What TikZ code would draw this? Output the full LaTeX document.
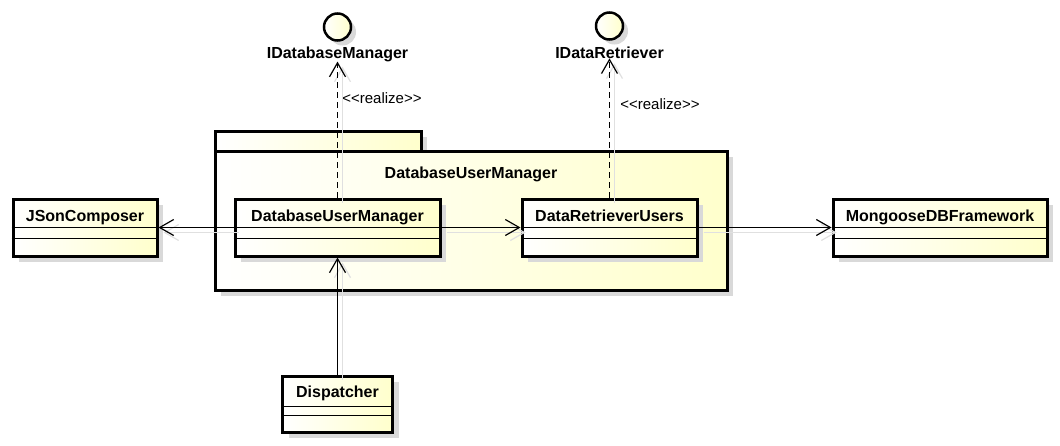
\documentclass[tikz,border=0pt]{standalone}
\usepackage{fontspec}
\setmainfont{Liberation Sans}
\usepackage{tikz}
\usetikzlibrary{positioning}
\usetikzlibrary{calc}
\usetikzlibrary{arrows.meta, shadows, shapes}
\definecolor{umlyellow}{rgb}{1.0, 1.0, 0.8}
\definecolor{shadowgray}{rgb}{0.85, 0.85, 0.85}
\def\stereo(#1){<\kern0pt<#1>\kern0pt>}
\def\compartments(#1,#2){\draw[compline] ($(#1.north west)+(0,#2)$) -- ($(#1.north east)+(0,#2)$);
\draw[compline] ($(#1.north west)+(0,41)$) -- ($(#1.north east)+(0,41)$);}
\tikzstyle{classbox} = [rectangle, draw=black, line width=3pt, left color=white, right color=umlyellow, inner sep=0pt, minimum height=57pt, drop shadow={shadow xshift=6pt, shadow yshift=-6pt, fill=shadowgray, opacity=1}]
\tikzstyle{classname} = [font=\bfseries\fontsize{16}{18}\selectfont, anchor=base, inner sep=0pt]
\tikzstyle{ifacecircle} = [circle, draw=black, line width=2.5pt, minimum size=27pt, inner sep=0pt, left color=white, right color=umlyellow, drop shadow={shadow xshift=5pt, shadow yshift=-5pt, fill=shadowgray, opacity=1}]
\tikzstyle{stereotype} = [font=\fontsize{15}{17}\selectfont, inner sep=0pt]
\tikzstyle{compline} = [line width=1.5pt]
\tikzstyle{assoc} = [line width=1.2pt, -{Straight Barb[length=14pt,width=16pt]}]
\tikzstyle{realizes} = [assoc, dash pattern=on 6pt off 4pt]
\tikzstyle{linkshadow} = [draw=black!12, transform canvas={xshift=5pt,yshift=-5pt}]

\begin{document}
\begin{tikzpicture}[x=1pt, y=-1pt]
\useasboundingbox (0,0) rectangle (1060,445);
% package
\node (pkgtab) at (318,141) [classbox, minimum width=206pt, minimum height=20pt] {};
\node (pkg) at (471,220.5) [classbox, minimum width=512pt, minimum height=139pt] {};
\node[classname] (pkgname) at (471,178) {DatabaseUserManager};
% classes
\node (jc) at (85,227.5) [classbox, minimum width=144pt] {};
\node (dum) at (337.5,227.5) [classbox, minimum width=205pt] {};
\node (dru) at (609.5,227.5) [classbox, minimum width=175pt] {};
\node (mdb) at (940,227.5) [classbox, minimum width=214pt] {};
\node (disp) at (337.5,404) [classbox, minimum width=110pt, minimum height=56pt] {};
\node[classname] (jcname) at ($(jc.north)+(0,24)$) {JSonComposer};
\node[classname] (dumname) at ($(dum.north)+(0,24)$) {DatabaseUserManager};
\node[classname] (druname) at ($(dru.north)+(0,24)$) {DataRetrieverUsers};
\node[classname] (mdbname) at ($(mdb.north)+(0,24)$) {MongooseDBFramework};
\node[classname] (dispname) at ($(disp.north)+(0,23)$) {Dispatcher};
\compartments(jc,30)
\compartments(dum,30)
\compartments(dru,30)
\compartments(mdb,30)
\compartments(disp,32)
% interfaces
\node (idm) at (337.5,27) [ifacecircle] {};
\node (idr) at (609.5,26) [ifacecircle] {};
\node[classname] (idmname) at (337.5,58) {IDatabaseManager};
\node[classname] (idrname) at (609.5,58) {IDataRetriever};
% links
\draw[assoc, linkshadow] (dum) -- (jc);
\draw[assoc] (dum) -- (jc);
\draw[assoc, linkshadow] (dum) -- (dru);
\draw[assoc] (dum) -- (dru);
\draw[assoc, linkshadow] (dru) -- (mdb);
\draw[assoc] (dru) -- (mdb);
\draw[assoc, linkshadow] (disp) -- (dum);
\draw[assoc] (disp) -- (dum);
\draw[assoc, linkshadow] (dum) -- (idmname);
\draw[realizes] (dum) -- (idmname);
\draw[assoc, linkshadow] (dru) -- (idrname);
\draw[realizes] (dru) -- (idrname);
\node[stereotype] (rl1) at (382,98) {\stereo(realize)};
\node[stereotype] (rl2) at (660,104) {\stereo(realize)};
\end{tikzpicture}
\end{document}
